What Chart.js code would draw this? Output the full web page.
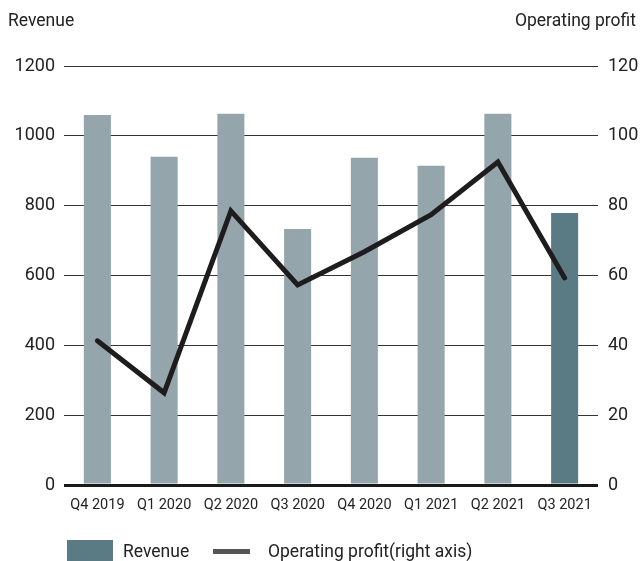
<!DOCTYPE html>
<html>
<head>
<meta charset="utf-8">
<script src="https://cdn.jsdelivr.net/npm/chart.js@4"></script>
<style>
    html, body { margin: 0; padding: 0; overflow: hidden; background: #fff; font-family: Roboto, "Noto Sans", sans-serif; color: #222; }
    #wrap { position: relative; width: 640px; height: 561px; overflow: hidden; }
    canvas { display: block; }
    .axisTitle { position: absolute; top: 10px; font-size: 17.5px; }
    #legend { position: absolute; top: 540px; left: 67px; font-size: 17.5px; }
    .sw { position: absolute; }
    .lt { position: absolute; top: 0; white-space: nowrap; line-height: 22px; }
</style>
</head>
<body>
<div id="wrap">
    <canvas id="myChart" width="640" height="561"></canvas>
    <div class="axisTitle" style="left:8px">Revenue</div>
    <div class="axisTitle" style="right:4px">Operating profit</div>
    <div id="legend">
        <div class="sw" style="left:0;top:0;width:46px;height:24px;background:#5a7b83"></div>
        <div class="lt" style="left:56px">Revenue</div>
        <div class="sw" style="left:146px;top:9px;width:37px;height:5px;background:#555"></div>
        <div class="lt" style="left:201px">Operating profit(right axis)</div>
    </div>
</div>
<script>
const quarters = ["Q4 2019", "Q1 2020", "Q2 2020", "Q3 2020", "Q4 2020", "Q1 2021", "Q2 2021", "Q3 2021"];
const revenue = [1060, 940, 1063, 733, 937, 914, 1063, 779];
const operatingProfit = [41.3, 26.4, 78.5, 57.3, 66.8, 77.4, 92.5, 59.3];
const leftTicks = [0, 200, 400, 600, 800, 1000, 1200];
const rightTicks = [0, 20, 40, 60, 80, 100, 120];

const barColors = quarters.map((q, i) => i === quarters.length - 1 ? "#5a7b83" : "#94a5ac");

const tickFont = { family: "Roboto", size: 18 };

const config = {
    type: 'bar',
    data: {
        labels: quarters,
        datasets: [{
            type: 'line',
            label: 'Operating profit(right axis)',
            data: operatingProfit,
            yAxisID: 'y1',
            borderColor: "#1e1c1c",
            borderWidth: 5,
            pointRadius: 0,
            tension: 0,
            borderJoinStyle: 'miter',
            borderCapStyle: 'round',
            order: 0
        }, {
            label: 'Revenue',
            data: revenue,
            yAxisID: 'y',
            backgroundColor: barColors,
            barPercentage: 0.81,
            categoryPercentage: 0.5,
            order: 1
        }]
    },
    options: {
        responsive: false,
        animation: false,
        layout: { padding: { top: 66, left: 0, right: 0, bottom: 0 } },
        plugins: { legend: { display: false }, tooltip: { enabled: false } },
        scales: {
            x: {
                grid: { display: false, drawTicks: false },
                border: { display: false },
                ticks: { color: "#222", font: { family: "Roboto", size: 14.5 }, padding: 12, maxRotation: 0 },
                afterFit: (s) => { s.height = 76; }
            },
            y: {
                position: 'left',
                min: 0, max: 1200,
                afterBuildTicks: (s) => { s.ticks = leftTicks.map(v => ({ value: v })); },
                grid: {
                    drawTicks: false,
                    color: (c) => c.tick && c.tick.value === 0 ? "#1a1a1a" : "#333",
                    lineWidth: (c) => c.tick && c.tick.value === 0 ? 3 : 1
                },
                border: { display: false },
                ticks: { color: "#222", font: tickFont, padding: 9, callback: (v) => String(v) },
                afterFit: (s) => { s.width = 64; }
            },
            y1: {
                position: 'right',
                min: 0, max: 120,
                afterBuildTicks: (s) => { s.ticks = rightTicks.map(v => ({ value: v })); },
                grid: { display: false, drawTicks: false },
                border: { display: false },
                ticks: { color: "#222", font: tickFont, padding: 10, callback: (v) => String(v) },
                afterFit: (s) => { s.width = 42; }
            }
        }
    }
};

let myChart = new Chart(document.getElementById('myChart'), config);
</script>
</body>
</html>
